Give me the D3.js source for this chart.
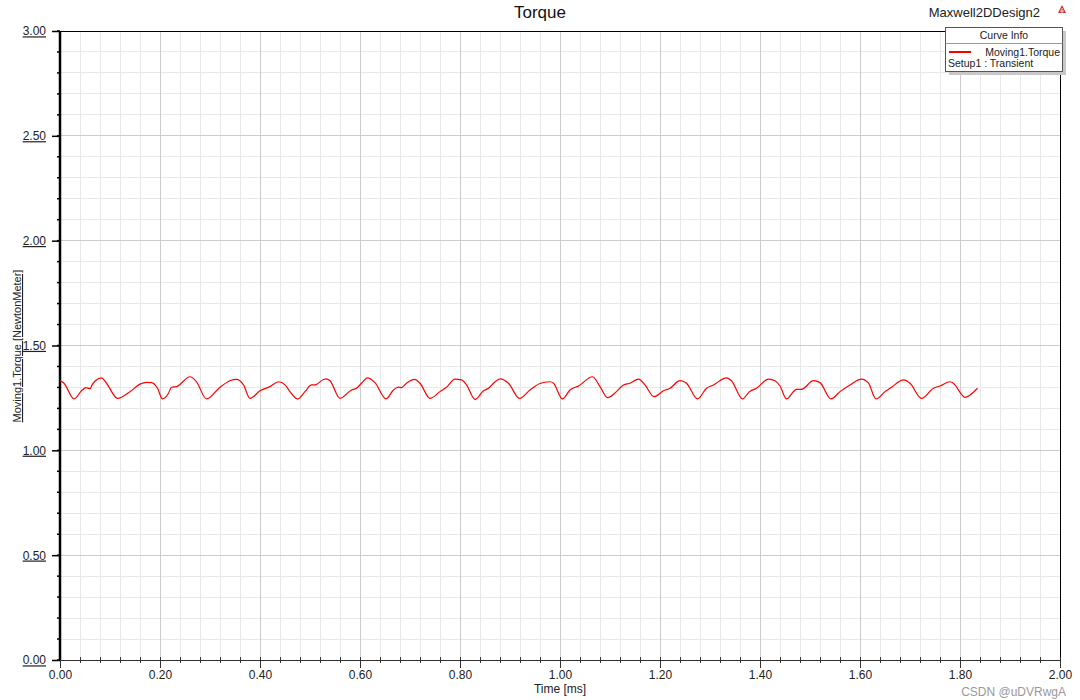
<!DOCTYPE html>
<html>
<head>
<meta charset="utf-8">
<script src="https://cdn.jsdelivr.net/npm/d3@7"></script>
<style>
  html, body { margin: 0; padding: 0; background: #fff; }
  svg { display: block; font-family: "Liberation Sans", Arial, sans-serif; }
</style>
</head>
<body>
<svg id="chart" width="1080" height="700"></svg>
<script>
// ---- data ----
const timeMs = [0.000,0.008,0.028,0.043,0.052,0.060,0.065,0.083,0.093,0.115,0.140,0.160,0.173,0.183,0.195,0.205,0.217,0.223,0.233,0.260,0.273,0.293,0.320,0.340,0.353,0.367,0.380,0.400,0.420,0.437,0.450,0.460,0.475,0.490,0.503,0.510,0.527,0.533,0.540,0.560,0.583,0.593,0.603,0.615,0.630,0.652,0.667,0.677,0.683,0.693,0.709,0.720,0.740,0.760,0.773,0.790,0.803,0.813,0.830,0.847,0.857,0.867,0.881,0.897,0.919,0.940,0.960,0.980,0.987,1.005,1.020,1.037,1.065,1.080,1.095,1.113,1.127,1.140,1.157,1.170,1.188,1.207,1.220,1.240,1.253,1.275,1.293,1.307,1.333,1.343,1.365,1.379,1.393,1.417,1.430,1.440,1.453,1.473,1.483,1.507,1.520,1.542,1.560,1.580,1.603,1.617,1.632,1.650,1.663,1.687,1.700,1.723,1.747,1.760,1.780,1.790,1.799,1.810,1.820,1.835];
const torqueNm = [1.332,1.320,1.245,1.284,1.299,1.294,1.316,1.346,1.320,1.248,1.280,1.316,1.324,1.323,1.296,1.245,1.272,1.301,1.304,1.351,1.327,1.245,1.301,1.332,1.338,1.312,1.248,1.284,1.304,1.327,1.312,1.280,1.245,1.280,1.312,1.312,1.338,1.341,1.332,1.248,1.288,1.296,1.320,1.346,1.323,1.245,1.288,1.301,1.299,1.320,1.338,1.320,1.248,1.280,1.301,1.340,1.336,1.312,1.243,1.284,1.296,1.320,1.341,1.320,1.248,1.288,1.319,1.327,1.320,1.245,1.288,1.307,1.351,1.304,1.251,1.280,1.312,1.320,1.340,1.312,1.256,1.284,1.296,1.332,1.320,1.245,1.296,1.312,1.346,1.332,1.245,1.280,1.296,1.340,1.332,1.307,1.245,1.291,1.291,1.332,1.323,1.245,1.280,1.312,1.340,1.320,1.245,1.280,1.301,1.336,1.320,1.248,1.296,1.307,1.327,1.312,1.280,1.253,1.264,1.296];
const xTicks = [0.00,0.20,0.40,0.60,0.80,1.00,1.20,1.40,1.60,1.80,2.00];
const yTicks = [0.00,0.50,1.00,1.50,2.00,2.50,3.00];
const xMinorTicks = d3.range(0, 51).map(i => i * 0.04);
const yMinorTicks = d3.range(0, 31).map(i => i * 0.1);
const titleText = "Torque";
const designName = "Maxwell2DDesign2";
const legendHeader = "Curve Info";
const seriesName = "Moving1.Torque";
const setupName = "Setup1 : Transient";
const xLabel = "Time [ms]";
const yLabel = "Moving1.Torque [NewtonMeter]";
const watermark = "CSDN @uDVRwgA";

// ---- layout ----
const svg = d3.select("#chart");
const L = 60, R = 1060, T = 31, B = 660;
const x = d3.scaleLinear().domain([0, 2]).range([L, R]);
const y = d3.scaleLinear().domain([0, 3]).range([B, T]);

// minor grid
svg.append("g").selectAll("line").data(xMinorTicks).join("line")
  .attr("x1", d => x(d)).attr("x2", d => x(d)).attr("y1", T).attr("y2", B)
  .attr("stroke", "#e8e8e8").attr("stroke-width", 1).attr("shape-rendering", "crispEdges");
svg.append("g").selectAll("line").data(yMinorTicks).join("line")
  .attr("y1", d => y(d)).attr("y2", d => y(d)).attr("x1", L).attr("x2", R)
  .attr("stroke", "#e8e8e8").attr("stroke-width", 1).attr("shape-rendering", "crispEdges");
// major grid
svg.append("g").selectAll("line").data(xTicks).join("line")
  .attr("x1", d => x(d)).attr("x2", d => x(d)).attr("y1", T).attr("y2", B)
  .attr("stroke", "#cccccc").attr("stroke-width", 1).attr("shape-rendering", "crispEdges");
svg.append("g").selectAll("line").data(yTicks).join("line")
  .attr("y1", d => y(d)).attr("y2", d => y(d)).attr("x1", L).attr("x2", R)
  .attr("stroke", "#cccccc").attr("stroke-width", 1).attr("shape-rendering", "crispEdges");

// frame
svg.append("line").attr("x1", L).attr("x2", R).attr("y1", T).attr("y2", T)
  .attr("stroke", "#000").attr("stroke-width", 1).attr("shape-rendering", "crispEdges");
svg.append("line").attr("x1", R).attr("x2", R).attr("y1", T).attr("y2", B)
  .attr("stroke", "#000").attr("stroke-width", 1).attr("shape-rendering", "crispEdges");

// x axis
const xAxis = d3.axisBottom(x).tickValues(xTicks).tickFormat(d3.format(".2f")).tickSize(0).tickPadding(10);
const gx = svg.append("g").attr("transform", `translate(0,${B})`).call(xAxis);
gx.select(".domain").attr("stroke", "#333").attr("stroke-width", 1).attr("shape-rendering", "crispEdges");
gx.selectAll("text").attr("font-size", 12).attr("fill", "#222")
  .attr("font-family", "'Liberation Sans', Arial, sans-serif");
svg.append("g").selectAll("line").data(xMinorTicks).join("line")
  .attr("x1", d => x(d)).attr("x2", d => x(d)).attr("y1", B - 3).attr("y2", B + 3)
  .attr("stroke", "#333").attr("stroke-width", 1).attr("shape-rendering", "crispEdges");
svg.append("g").selectAll("line").data(xTicks).join("line")
  .attr("x1", d => x(d)).attr("x2", d => x(d)).attr("y1", B - 3).attr("y2", B + 8)
  .attr("stroke", "#333").attr("stroke-width", 1).attr("shape-rendering", "crispEdges");

// y axis
const yAxis = d3.axisLeft(y).tickValues(yTicks).tickFormat(d3.format(".2f")).tickSize(8).tickPadding(6);
const gy = svg.append("g").attr("transform", `translate(${L},0)`).call(yAxis);
gy.select(".domain").remove();
gy.selectAll(".tick line").attr("stroke", "#000").attr("stroke-width", 1.5);
gy.selectAll("text").attr("font-size", 12).attr("fill", "#222")
  .attr("text-decoration", "underline")
  .attr("font-family", "'Liberation Sans', Arial, sans-serif");
svg.append("g").selectAll("line").data(yMinorTicks).join("line")
  .attr("x1", L - 3).attr("x2", L).attr("y1", d => y(d)).attr("y2", d => y(d))
  .attr("stroke", "#000").attr("stroke-width", 1.5);
svg.append("line").attr("x1", L).attr("x2", L).attr("y1", T).attr("y2", B)
  .attr("stroke", "#000").attr("stroke-width", 2.5);

// curve
const pts = timeMs.map((t, i) => [t, torqueNm[i]]);
const line = d3.line().x(d => x(d[0])).y(d => y(d[1])).curve(d3.curveMonotoneX);
svg.append("path").datum(pts).attr("d", line)
  .attr("fill", "none").attr("stroke", "#ff0000").attr("stroke-width", 1.2);

// titles
svg.append("text").attr("x", 540).attr("y", 18).attr("text-anchor", "middle")
  .attr("font-size", 17).attr("fill", "#111").text(titleText);
svg.append("text").attr("x", 1040).attr("y", 17).attr("text-anchor", "end")
  .attr("font-size", 13).attr("fill", "#222").text(designName);
svg.append("path").attr("d", "M1062,5 L1066,13 L1058,13 Z").attr("fill", "#d43030");
svg.append("path").attr("d", "M1062,8 L1062,13 M1060,11 L1064,11").attr("stroke", "#fff").attr("stroke-width", 0.8);

svg.append("text").attr("x", 560).attr("y", 693).attr("text-anchor", "middle")
  .attr("font-size", 12).attr("fill", "#222").text(xLabel);
svg.append("text").attr("transform", "translate(21,346) rotate(-90)")
  .attr("text-anchor", "middle").attr("font-size", 11).attr("fill", "#222")
  .attr("text-decoration", "underline").text(yLabel);

// legend
const lg = svg.append("g");
lg.append("rect").attr("x", 949).attr("y", 31).attr("width", 117).attr("height", 44).attr("fill", "#c8c8c8");
lg.append("rect").attr("x", 945.5).attr("y", 27.5).attr("width", 117).attr("height", 44)
  .attr("fill", "#fff").attr("stroke", "#555").attr("stroke-width", 1);
lg.append("line").attr("x1", 945.5).attr("x2", 1062.5).attr("y1", 43.5).attr("y2", 43.5)
  .attr("stroke", "#999").attr("stroke-width", 1);
lg.append("text").attr("x", 1004).attr("y", 39).attr("text-anchor", "middle")
  .attr("font-size", 10.5).attr("fill", "#222").text(legendHeader);
lg.append("line").attr("x1", 949).attr("x2", 971).attr("y1", 52).attr("y2", 52)
  .attr("stroke", "#ff0000").attr("stroke-width", 2);
lg.append("text").attr("x", 1060).attr("y", 56).attr("text-anchor", "end")
  .attr("font-size", 10.5).attr("fill", "#222").text(seriesName);
lg.append("text").attr("x", 948).attr("y", 67)
  .attr("font-size", 10.5).attr("fill", "#222").text(setupName);

// watermark (placed just below the tick labels to avoid overlap)
svg.append("text").attr("x", 1066).attr("y", 696).attr("text-anchor", "end")
  .attr("font-size", 12).attr("fill", "#888").attr("opacity", 0.85).text(watermark);
</script>
</body>
</html>
